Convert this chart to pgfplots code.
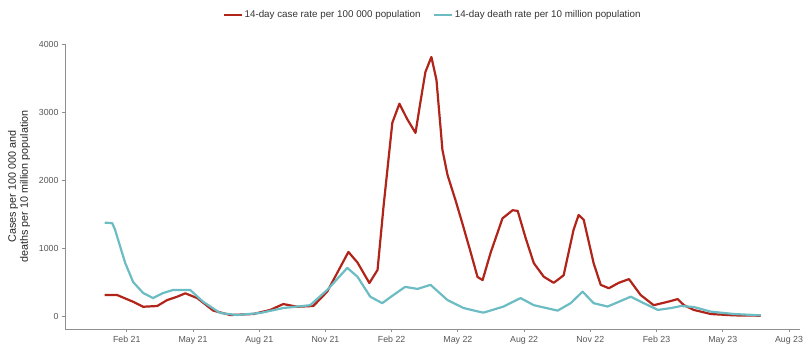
\documentclass[border=0pt]{standalone}
\usepackage{pgfplots}
\pgfplotsset{compat=1.18}
\usepackage{fontspec}
\setmainfont{Liberation Sans}
\definecolor{caseRed}{HTML}{B0241A}
\definecolor{deathTeal}{HTML}{6CBCC4}
\definecolor{axGray}{HTML}{8F8F8F}
\definecolor{txGray}{HTML}{555555}
\begin{document}
\begin{tikzpicture}[x=1pt,y=1pt]
\useasboundingbox (0,0) rectangle (804,348);
\begin{axis}[
  at={(65pt,19pt)}, anchor=south west,
  scale only axis, width=735pt, height=285pt,
  xmin=-1.8, xmax=31.5, ymin=-191, ymax=4011,
  axis x line*=bottom, axis y line*=left,
  axis line style={axGray, line width=0.8pt},
  tick align=outside, major tick length=3pt,
  tick style={axGray, line width=0.8pt},
  xtick={1,4,7,10,13,16,19,22,25,28,31},
  xticklabels={Feb 21,May 21,Aug 21,Nov 21,Feb 22,May 22,Aug 22,Nov 22,Feb 23,May 23,Aug 23},
  ytick={0,1000,2000,3000,4000},
  /pgf/number format/assume math mode=true,
  /pgf/number format/1000 sep={},
  ticklabel style={font=\fontsize{8.8}{10}\selectfont, text=txGray},
  xticklabel style={yshift=-1pt},
  ylabel={Cases per 100 000 and\\deaths per 10 million population},
  ylabel style={at={(axis description cs:-0.0626,0.5)}, anchor=center, align=center, font=\fontsize{10.8}{12}\selectfont, text=black!85},
  legend columns=2,
  legend style={at={(0.5,1.1018)}, anchor=center, draw=none, fill=none,
     font=\fontsize{9.8}{11}\selectfont, text=black!80,
     /tikz/every even column/.append style={column sep=10pt}},
  legend image code/.code={\draw[#1, line width=2.2pt] (0pt,0pt) -- (18pt,0pt);},
  every axis plot/.append style={line width=2.2pt, line join=round},
]
\addplot[caseRed, mark=none] coordinates {
(0,310) (0.56,310) (1.29,210) (1.74,137) (2.38,148) (2.83,236) (3.28,285) (3.65,335)
(4.19,265) (4.92,80) (5.69,15) (6.73,30) (7.50,90) (8.09,177) (8.72,137) (9.45,148)
(10.08,360) (11.04,945) (11.45,790) (11.99,487) (12.36,680) (12.63,1610) (13.03,2850)
(13.35,3130) (13.71,2900) (14.08,2700) (14.30,3150) (14.53,3600) (14.80,3820) (15.03,3480)
(15.30,2450) (15.53,2080) (15.89,1710) (16.20,1370) (16.57,950) (16.89,576) (17.12,530)
(17.48,930) (18.02,1440) (18.48,1560) (18.71,1550) (19.07,1150) (19.44,780) (19.89,580)
(20.34,490) (20.79,600) (21.24,1270) (21.47,1490) (21.70,1420) (22.15,780) (22.47,460)
(22.84,410) (23.29,490) (23.75,545) (24.28,310) (24.87,160) (25.51,210) (25.96,250)
(26.24,160) (26.69,90) (27.46,30) (28.50,10) (29.72,5)
};
\addlegendentry{14-day case rate per 100 000 population}
\addplot[deathTeal, mark=none] coordinates {
(0,1377) (0.34,1370) (0.47,1270) (0.93,780) (1.29,500) (1.74,340) (2.19,265) (2.65,340)
(3.10,385) (3.74,385) (3.87,385) (4.46,210) (5.23,45) (6.00,15) (7.05,45) (8.09,118)
(9.31,160) (10.08,385) (10.99,710) (11.45,580) (12.03,285) (12.57,190) (13.08,310)
(13.61,430) (14.17,400) (14.76,460) (15.53,235) (16.26,118) (16.94,65) (17.16,50)
(18.07,140) (18.84,265) (19.44,160) (20.52,80) (21.11,190) (21.65,360) (22.15,190)
(22.78,140) (23.29,210) (23.83,285) (24.42,190) (25.06,90) (25.66,118) (26.11,148)
(26.69,133) (27.46,65) (28.50,30) (29.72,10)
};
\addlegendentry{14-day death rate per 10 million population}
\end{axis}
\end{tikzpicture}
\end{document}
